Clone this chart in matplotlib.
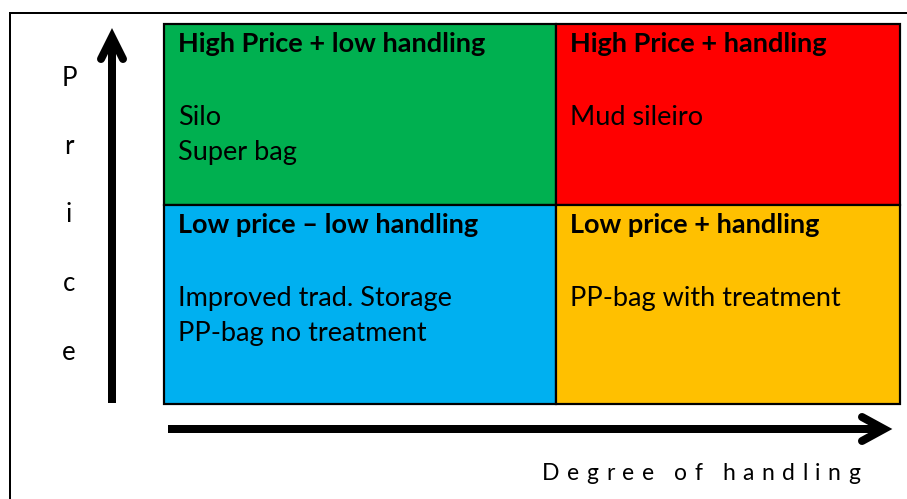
import matplotlib
matplotlib.use("Agg")
import matplotlib.pyplot as plt
from matplotlib.patches import Rectangle

# ---- data ----
quad_titles = ["High Price + low handling", "High Price + handling",
               "Low price \u2013 low handling", "Low price + handling"]
quad_items = [["Silo", "Super bag"], ["Mud sileiro"],
              ["Improved trad. Storage", "PP-bag no treatment"], ["PP-bag with treatment"]]
quad_colors = ["#00B050", "#FF0000", "#00B0F0", "#FFC000"]
y_label_letters = ["P", "r", "i", "c", "e"]
x_label = "Degree of handling"

W, H = 907, 499
fig = plt.figure(figsize=(W / 100, H / 100), dpi=100)
ax = fig.add_axes([0, 0, 1, 1])
ax.set_xlim(0, W)
ax.set_ylim(H, 0)
ax.axis("off")

FONT = "Lato"
px = 72 / 100  # points per pixel
QFS = 19.5

# frame
ax.plot([10, 10, W], [H, 13, 13], color="black", lw=2 * px, solid_joinstyle="miter")

# quadrants
xs = [164, 556, 900]
ys = [24, 205, 404]
for i in range(4):
    r, c = divmod(i, 2)
    ax.add_patch(Rectangle((xs[c], ys[r]), xs[c + 1] - xs[c], ys[r + 1] - ys[r],
                           facecolor=quad_colors[i], edgecolor="black", lw=2.2 * px))
    tx = xs[c] + 14
    ty = ys[r] + 28
    ax.text(tx, ty, quad_titles[i], fontsize=QFS, fontweight="bold", family=FONT,
            ha="left", va="baseline", color="black")
    for j, item in enumerate(quad_items[i]):
        ax.text(tx, ty + 73 + 35 * j, item, fontsize=QFS, family=FONT,
                ha="left", va="baseline", color="black")

# vertical arrow
lw_ar = 8 * px
ax.plot([112, 112], [403, 42], color="black", lw=lw_ar, solid_capstyle="butt")
ax.plot([101, 112, 123], [59, 37, 59], color="black", lw=lw_ar,
        solid_capstyle="round", solid_joinstyle="miter")
# horizontal arrow
ax.plot([168, 879], [429, 429], color="black", lw=lw_ar, solid_capstyle="butt")
ax.plot([862, 884, 862], [417, 429, 441], color="black", lw=lw_ar,
        solid_capstyle="round", solid_joinstyle="miter")

# y label letters
for k, ch in enumerate(y_label_letters):
    ax.text(69, 78 + 68.5 * k, ch, fontsize=18.5, family=FONT, ha="center",
            va="center", color="black")

# x label with expanded letter spacing
fig.canvas.draw()
renderer = fig.canvas.get_renderer()
XFS = 16.5
x_left, x_right, base = 542, 860, 480
widths = []
for ch in x_label:
    if ch == " ":
        widths.append(5)
        continue
    t = ax.text(0, 0, ch, fontsize=XFS, family=FONT)
    widths.append(t.get_window_extent(renderer).width)
    t.remove()
natural = sum(widths)
track = (x_right - x_left - natural) / (len(x_label) - 1)
xpos = x_left
for ch, w in zip(x_label, widths):
    if ch != " ":
        ax.text(xpos, base, ch, fontsize=XFS, family=FONT, ha="left",
                va="baseline", color="black")
    xpos += w + track

fig.savefig("out.png", dpi=100)
